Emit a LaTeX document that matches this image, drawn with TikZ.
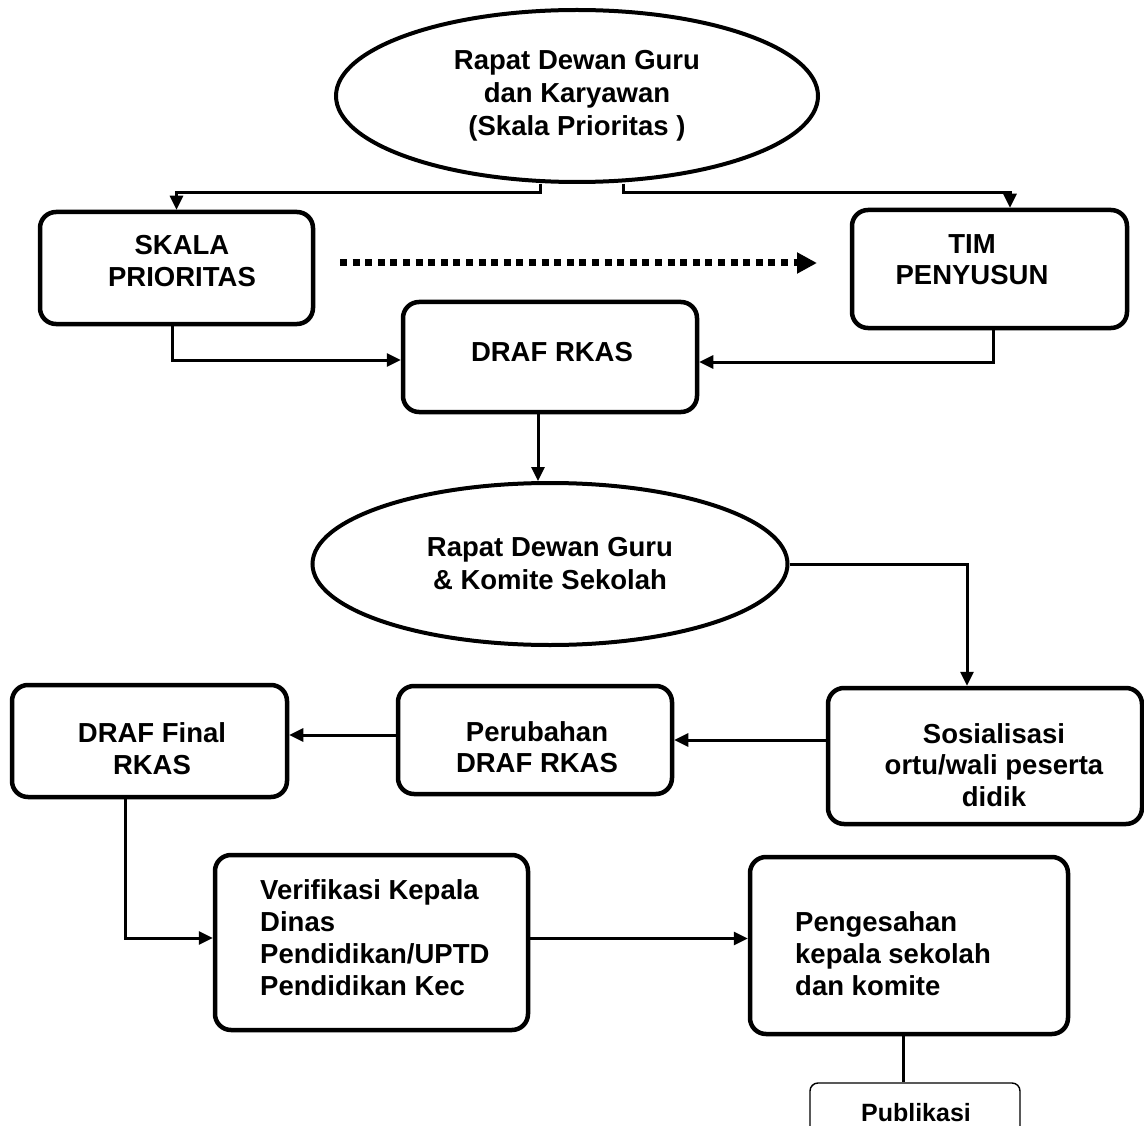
\documentclass[tikz,border=0pt]{standalone}
\usepackage{fontspec}
\setmainfont{Liberation Sans}
\usetikzlibrary{shapes.geometric,arrows.meta,calc}
\begin{document}
\begin{tikzpicture}[x=1pt,y=-1pt,
  box/.style={draw,line width=4.5pt,rounded corners=16pt,inner sep=0pt},
  oval/.style={draw,ellipse,line width=4pt,inner sep=0pt,align=center,
    font=\fontsize{27.5}{33}\selectfont\bfseries},
  txt/.style={font=\fontsize{27.5}{31.5}\selectfont\bfseries,align=center,inner sep=0pt},
  ltxt/.style={font=\fontsize{27.5}{32}\selectfont\bfseries,align=left,inner sep=0pt,anchor=west},
  conn/.style={line width=3pt,-{Triangle[length=14pt,width=13pt]}},
  plain/.style={line width=3pt},
  dots/.style={line width=7pt,dash pattern=on 7pt off 5.6pt,-{Triangle[length=20pt,width=20pt]}},
]
\useasboundingbox[fill=white] (0,0) rectangle (1144,1126);

% ellipses
\node[oval,minimum width=482pt,minimum height=172pt] (e1) at (577,96)
  {Rapat Dewan Guru\\dan Karyawan\\(Skala Prioritas )};
\node[oval,minimum width=475pt,minimum height=162pt] (e2) at (550,564)
  {Rapat Dewan Guru\\\& Komite Sekolah};

% boxes
\node[box,minimum width=273pt,minimum height=112pt] (sk) at (176.5,268) {};
\node[txt] (skt) at (182,261) {SKALA\\PRIORITAS};
\node[box,minimum width=275pt,minimum height=118pt] (tim) at (989.5,269) {};
\node[txt] (timt) at (972,259.5) {TIM\\PENYUSUN};
\node[box,minimum width=294pt,minimum height=110pt] (dr) at (550,357) {};
\node[txt] (drt) at (552,352) {DRAF RKAS};

\node[box,minimum width=275pt,minimum height=112pt] (fin) at (149.5,741) {};
\node[txt] (fint) at (152,748.5) {DRAF Final\\RKAS};
\node[box,minimum width=274pt,minimum height=108pt] (per) at (535,740) {};
\node[txt] (pert) at (537,747) {Perubahan\\DRAF RKAS};
\node[box,minimum width=314pt,minimum height=136pt] (soc) at (985,756) {};
\node[txt] (soct) at (994,765) {Sosialisasi\\ortu/wali peserta\\didik};

\node[box,minimum width=313pt,minimum height=175pt] (ver) at (371.5,942.5) {};
\node[ltxt] (vert) at (260,938) {Verifikasi Kepala\\Dinas\\Pendidikan/UPTD\\Pendidikan Kec};
\node[box,minimum width=318pt,minimum height=177pt] (pen) at (909,945.5) {};
\node[ltxt] (pent) at (795,954) {Pengesahan\\kepala sekolah\\dan komite};

\node[draw,line width=1.4pt,rounded corners=8pt,minimum width=210pt,minimum height=58pt,inner sep=0pt] (pub) at (915,1112) {};
\node[font=\fontsize{25}{28}\selectfont\bfseries,inner sep=0pt] (pubt) at (916,1113) {Publikasi};

% connectors
\draw[conn] ([xshift=-37pt]e1.south) -- ++(0,9) -| (sk.north);
\draw[conn] ([xshift=46pt]e1.south) -- ++(0,9) -| ([xshift=20.5pt]tim.north);
\coordinate (d1) at (340,263);
\coordinate (d2) at (817,263);
\draw[dots] (d1) -- (d2);
\draw[conn] ([xshift=-4.5pt]sk.south) |- ([yshift=-3pt]dr.west);
\draw[conn] ([xshift=3.5pt]tim.south) |- ([yshift=-5pt]dr.east);
\draw[conn] ([xshift=-12pt]dr.south) -- ([xshift=-12pt]dr.south |- e2.north);
\draw[conn] (e2.east) -| ([xshift=-18pt]soc.north);
\draw[conn] (soc.west |- per.east) -- (per.east);
\draw[conn] ([yshift=5pt]per.west) -- ([yshift=5pt]per.west -| fin.east);
\draw[conn] ([xshift=-24.5pt]fin.south) |- ([yshift=4.5pt]ver.west);
\draw[conn] ([yshift=4pt]ver.east) -- ([yshift=4pt]ver.east -| pen.west);
\draw[plain] ([xshift=-6pt]pen.south) -- ([xshift=-6pt]pen.south |- pub.north);
\end{tikzpicture}
\end{document}
